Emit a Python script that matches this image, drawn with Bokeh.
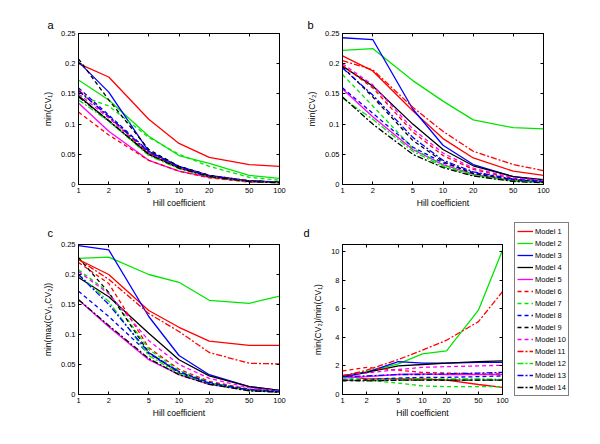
from bokeh.plotting import figure
from bokeh.models import (FixedTicker, CustomJSTickFormatter, LinearAxis, LogAxis,
                          Range1d, Legend, LegendItem)
from bokeh.layouts import column, row
from bokeh.embed import file_html
from bokeh.resources import INLINE

# ---------------- data ----------------
hill = [1, 2, 5, 10, 20, 50, 100]
model_names = ["Model 1", "Model 2", "Model 3", "Model 4", "Model 5", "Model 6", "Model 7",
               "Model 8", "Model 9", "Model 10", "Model 11", "Model 12", "Model 13", "Model 14"]

min_cv1 = [
    [0.200, 0.178, 0.108, 0.068, 0.045, 0.033, 0.030],
    [0.173, 0.140, 0.080, 0.048, 0.035, 0.015, 0.010],
    [0.203, 0.153, 0.055, 0.030, 0.015, 0.006, 0.004],
    [0.147, 0.105, 0.050, 0.028, 0.014, 0.006, 0.004],
    [0.135, 0.088, 0.040, 0.022, 0.012, 0.005, 0.003],
    [0.120, 0.082, 0.040, 0.022, 0.011, 0.004, 0.003],
    [0.148, 0.130, 0.078, 0.050, 0.030, 0.012, 0.007],
    [0.160, 0.115, 0.055, 0.030, 0.015, 0.006, 0.004],
    [0.208, 0.140, 0.058, 0.030, 0.015, 0.006, 0.004],
    [0.150, 0.110, 0.052, 0.028, 0.014, 0.005, 0.003],
    [0.157, 0.112, 0.052, 0.028, 0.014, 0.006, 0.004],
    [0.140, 0.105, 0.048, 0.026, 0.013, 0.005, 0.003],
    [0.155, 0.113, 0.054, 0.029, 0.014, 0.006, 0.004],
    [0.145, 0.106, 0.050, 0.027, 0.013, 0.005, 0.003],
]

min_cv2 = [
    [0.213, 0.188, 0.122, 0.076, 0.044, 0.022, 0.015],
    [0.222, 0.225, 0.172, 0.138, 0.107, 0.094, 0.092],
    [0.243, 0.240, 0.125, 0.065, 0.033, 0.013, 0.007],
    [0.196, 0.163, 0.100, 0.058, 0.031, 0.013, 0.008],
    [0.158, 0.112, 0.058, 0.033, 0.017, 0.007, 0.004],
    [0.197, 0.160, 0.087, 0.048, 0.025, 0.010, 0.006],
    [0.182, 0.130, 0.060, 0.032, 0.016, 0.006, 0.004],
    [0.160, 0.118, 0.062, 0.036, 0.020, 0.008, 0.005],
    [0.195, 0.145, 0.073, 0.038, 0.018, 0.007, 0.004],
    [0.200, 0.165, 0.092, 0.052, 0.027, 0.011, 0.007],
    [0.205, 0.190, 0.128, 0.088, 0.055, 0.033, 0.023],
    [0.143, 0.108, 0.055, 0.030, 0.015, 0.006, 0.003],
    [0.193, 0.148, 0.078, 0.040, 0.021, 0.009, 0.005],
    [0.145, 0.100, 0.050, 0.028, 0.014, 0.005, 0.003],
]

min_max_cv = [
    [0.225, 0.200, 0.140, 0.112, 0.089, 0.082, 0.082],
    [0.227, 0.229, 0.200, 0.187, 0.157, 0.152, 0.164],
    [0.248, 0.241, 0.130, 0.065, 0.033, 0.013, 0.007],
    [0.195, 0.163, 0.102, 0.058, 0.031, 0.013, 0.007],
    [0.158, 0.113, 0.058, 0.033, 0.017, 0.007, 0.004],
    [0.220, 0.185, 0.078, 0.042, 0.022, 0.009, 0.005],
    [0.208, 0.170, 0.075, 0.040, 0.020, 0.008, 0.005],
    [0.172, 0.130, 0.068, 0.038, 0.020, 0.008, 0.005],
    [0.228, 0.170, 0.070, 0.036, 0.018, 0.007, 0.004],
    [0.205, 0.168, 0.090, 0.050, 0.027, 0.011, 0.006],
    [0.225, 0.192, 0.135, 0.105, 0.070, 0.052, 0.051],
    [0.200, 0.155, 0.065, 0.035, 0.018, 0.007, 0.004],
    [0.200, 0.150, 0.070, 0.038, 0.019, 0.008, 0.005],
    [0.158, 0.115, 0.060, 0.033, 0.017, 0.006, 0.004],
]

cv_ratio = [
    [1.30, 1.10, 1.10, 1.10, 1.00, 0.70, 0.50],
    [1.30, 1.60, 2.15, 2.85, 3.05, 5.90, 10.10],
    [1.20, 1.55, 2.30, 2.20, 2.20, 2.25, 2.25],
    [1.30, 1.55, 2.00, 2.10, 2.20, 2.30, 2.35],
    [1.15, 1.25, 1.40, 1.45, 1.40, 1.40, 1.40],
    [1.65, 1.90, 1.70, 1.55, 1.50, 1.45, 1.45],
    [1.20, 1.00, 0.80, 0.60, 0.55, 0.55, 0.55],
    [1.00, 1.05, 1.15, 1.20, 1.20, 1.25, 1.30],
    [0.95, 1.00, 1.00, 1.00, 1.00, 1.00, 1.00],
    [1.35, 1.50, 1.75, 1.90, 1.95, 2.00, 2.05],
    [1.30, 1.70, 2.45, 3.10, 3.80, 5.10, 7.20],
    [1.00, 1.00, 1.05, 1.10, 1.10, 1.10, 1.05],
    [1.25, 1.30, 1.40, 1.40, 1.45, 1.50, 1.55],
    [1.00, 0.95, 1.00, 1.00, 1.00, 1.00, 1.00],
]

cv_ticks = [0, 0.05, 0.1, 0.15, 0.2, 0.25]
ratio_ticks = [0, 2, 4, 6, 8, 10]

# ---------------- styles ----------------
FONT = "Liberation Sans"
colors = ["#ff0000", "#00e600", "#0000ff", "#000000", "#ff00ff"] * 3
dashes = ["solid"] * 5 + ["4 3"] * 5 + ["6 2 2 2"] * 4


def make_panel(data, ymax, yticks, ylabel, letter, fw, fh, bl, br, bt, bb, letter_dx,
               letter_standoff=6):
    p = figure(width=bl + fw + br, height=bt + fh + bb,
               x_axis_type="log", x_range=Range1d(1, 100), y_range=Range1d(0, ymax),
               output_backend="svg", toolbar_location=None,
               min_border_left=bl, min_border_right=br,
               min_border_top=bt, min_border_bottom=bb)
    p.grid.visible = False
    p.outline_line_color = "black"
    p.outline_line_width = 1
    p.background_fill_color = "white"
    p.border_fill_color = "white"

    p.title.text = letter
    p.title.align = "left"
    p.title.offset = letter_dx
    p.title.text_font = FONT
    p.title.text_font_size = "11px"
    p.title.text_font_style = "normal"
    p.title.text_color = "black"
    p.title.standoff = letter_standoff

    num_fmt = CustomJSTickFormatter(code="return tick.toString();")
    for ax, ticks in ((p.xaxis[0], hill), (p.yaxis[0], yticks)):
        ax.ticker = FixedTicker(ticks=ticks)
        ax.formatter = num_fmt
        ax.major_tick_in = 3
        ax.major_tick_out = 0
        ax.minor_tick_line_color = None
        ax.axis_line_color = "black"
        ax.major_label_text_font = FONT
        ax.major_label_text_font_size = "7.5px"
        ax.major_label_text_color = "black"
        ax.axis_label_text_font = FONT
        ax.axis_label_text_font_size = "8.5px"
        ax.axis_label_text_font_style = "normal"
        ax.axis_label_text_color = "black"
    p.xaxis.axis_label = "Hill coefficient"
    p.xaxis.major_label_standoff = 3
    p.xaxis.axis_label_standoff = 2
    p.yaxis.axis_label = ylabel
    p.yaxis.major_label_standoff = 3
    p.yaxis.axis_label_standoff = 5

    # mirrored tick marks (box style)
    blank = CustomJSTickFormatter(code="return '';")
    right = LinearAxis(ticker=FixedTicker(ticks=yticks), formatter=blank,
                       major_tick_in=3, major_tick_out=0, minor_tick_line_color=None,
                       major_label_text_font_size="0px", major_label_standoff=0)
    top = LogAxis(ticker=FixedTicker(ticks=hill), formatter=blank,
                  major_tick_in=3, major_tick_out=0, minor_tick_line_color=None,
                  major_label_text_font_size="0px", major_label_standoff=0)
    p.add_layout(right, "right")
    p.add_layout(top, "above")

    for i, ys in enumerate(data):
        p.line(hill, ys, line_color=colors[i], line_dash=dashes[i], line_width=1.3)
    return p


pa = make_panel(min_cv1, 0.25, cv_ticks, "min(CV\u2081)", "a",
                201, 151, 78, 15, 33, 28, -31)
pb = make_panel(min_cv2, 0.25, cv_ticks, "min(CV\u2082)", "b",
                201, 151, 48, 20, 33, 28, -35)
pc = make_panel(min_max_cv, 0.25, cv_ticks, "min(max(CV\u2081,CV\u2082))", "c",
                201, 150, 78, 15, 32, 40, -31, letter_standoff=11)
pd = make_panel(cv_ratio, 10.5, ratio_ticks, "min(CV\u2082)/min(CV\u2081)", "d",
                160, 150, 48, 10, 32, 40, -39, letter_standoff=11)

# legend panel (key only)
pl = figure(width=72, height=222, x_range=Range1d(0, 1), y_range=Range1d(0, 1),
            output_backend="svg", toolbar_location=None, title=None,
            x_axis_location=None, y_axis_location=None,
            min_border_left=0, min_border_right=0, min_border_top=0, min_border_bottom=0)
if "frame_align" in pl.properties():
    pl.frame_align = False
pl.grid.visible = False
pl.outline_line_color = None
pl.border_fill_color = "white"
pl.background_fill_color = "white"
nan = float("nan")
key_renderers = [pl.line([nan], [nan], line_color=colors[i], line_dash=dashes[i], line_width=1.3)
                 for i in range(len(model_names))]
items = [LegendItem(label=model_names[i], renderers=[key_renderers[i]])
         for i in range(len(model_names))]
leg = Legend(items=items, location=(2, 38),
             label_text_font=FONT, label_text_font_size="7.5px", label_text_color="black",
             label_height=12, glyph_height=12, glyph_width=16,
             label_standoff=2, spacing=0, padding=2, margin=0,
             border_line_color="black", border_line_width=1,
             background_fill_color="white", background_fill_alpha=1)
pl.add_layout(leg)

layout = column(row(pa, pb), row(pc, pd, pl))

with open("out.html", "w") as f:
    f.write(file_html(layout, INLINE))
